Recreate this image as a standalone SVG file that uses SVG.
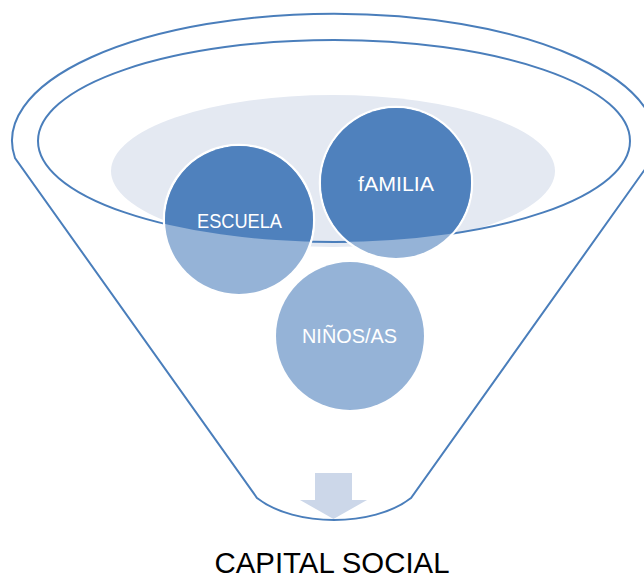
<svg xmlns="http://www.w3.org/2000/svg" width="644" height="578" viewBox="0 0 644 578">
<style>
.rim{fill:none;stroke:#4A7EBB;stroke-width:2}
.lbl{font-family:"Liberation Sans",Arial,sans-serif;font-size:21px;fill:#FFFFFF;text-anchor:middle}
.light{fill:#95B3D7}
.dark{fill:#4F81BD}
.ring{fill:none;stroke:#FFFFFF;stroke-width:4.5}
</style>
<defs>
<clipPath id="inner"><ellipse cx="334" cy="141" rx="296" ry="101"/></clipPath>
</defs>
<g id="funnel">
<ellipse cx="333" cy="171" rx="222" ry="76" fill="#E4E9F2"/>
<path class="rim" d="M15,158 A322,127 0 1 1 653,158 L411,498 C392,513 362,520 334,520 C306,520 276,513 257,498 Z"/>
<ellipse class="rim" cx="334" cy="141" rx="296" ry="101"/>
<polygon points="315,473 352,473 352,500 367,500 333.5,519 300,500 315,500" fill="#CCD7E9"/>
</g>
<g id="connectors"></g>
<g id="escuela">
<circle class="ring" cx="239" cy="220" r="74"/>
<circle class="light" cx="239" cy="220" r="74"/>
<circle class="dark" cx="239" cy="220" r="74" clip-path="url(#inner)"/>
<text class="lbl" x="239.5" y="228" textLength="85" lengthAdjust="spacingAndGlyphs">ESCUELA</text>
</g>
<g id="familia">
<circle class="ring" cx="396" cy="183" r="75"/>
<circle class="light" cx="396" cy="183" r="75"/>
<circle class="dark" cx="396" cy="183" r="75" clip-path="url(#inner)"/>
<text class="lbl" x="396" y="191" textLength="76" lengthAdjust="spacingAndGlyphs">fAMILIA</text>
</g>
<g id="ninos">
<circle class="light" cx="350" cy="336" r="74"/>
<text class="lbl" x="349.5" y="343" textLength="95" lengthAdjust="spacingAndGlyphs">NIÑOS/AS</text>
</g>
<g id="title">
<text x="332" y="573" font-family="'Liberation Sans',Arial,sans-serif" font-size="29" fill="#000000" text-anchor="middle" textLength="235" lengthAdjust="spacingAndGlyphs">CAPITAL SOCIAL</text>
</g>
</svg>
